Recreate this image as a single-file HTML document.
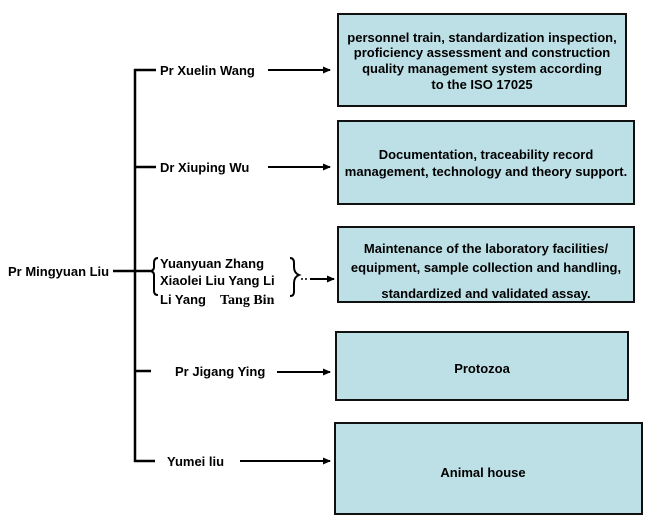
<!DOCTYPE html>
<html><head><style>
body{margin:0;background:#fff;}
svg{display:block;}
text{font-family:"Liberation Sans",Arial,sans-serif;font-weight:bold;font-size:13px;fill:#000;}
</style></head><body>
<svg width="649" height="521" viewBox="0 0 649 521" xmlns="http://www.w3.org/2000/svg">
<defs><marker id="a" markerWidth="8" markerHeight="8" refX="7" refY="4" orient="auto" markerUnits="userSpaceOnUse"><path d="M0,0.5 L8,4 L0,7.5 z" fill="#000"/></marker></defs>
<g fill="#bde0e6" stroke="#111" stroke-width="2">
<rect x="338" y="14" width="288" height="92"/>
<rect x="338" y="121" width="296" height="83"/>
<rect x="338" y="227" width="296" height="75"/>
<rect x="336" y="332" width="292" height="68"/>
<rect x="335" y="423" width="307" height="91"/>
</g>
<g stroke="#000" stroke-width="2.5" fill="none">
<line x1="135" y1="69" x2="135" y2="462"/>
<line x1="134" y1="70" x2="156" y2="70"/>
<line x1="134" y1="167" x2="156" y2="167"/>
<line x1="113" y1="271" x2="150" y2="271"/>
<line x1="134" y1="371" x2="151" y2="371"/>
<line x1="134" y1="461" x2="155" y2="461"/>
</g>
<g stroke="#000" stroke-width="2" fill="none">
<path d="M158,258 q-4,0 -4,5 v4 q0,4 -5,4 q5,0 5,4 v16 q0,4 4,4"/>
<path d="M290,258 q4,0 4,5 v4 q0,6 5,8 q-5,2 -5,8 v9 q0,4 -4,4"/>
</g>
<g stroke="#000" stroke-width="2" marker-end="url(#a)">
<line x1="268" y1="70" x2="330" y2="70"/>
<line x1="268" y1="167" x2="330" y2="167"/>
<line x1="310" y1="279" x2="334" y2="279"/>
<line x1="277" y1="372" x2="330" y2="372"/>
<line x1="240" y1="461" x2="330" y2="461"/>
</g>
<line x1="301" y1="279" x2="308" y2="279" stroke="#000" stroke-width="1.5" stroke-dasharray="2,2"/>
<text x="160" y="75">Pr Xuelin Wang</text>
<text x="160" y="172">Dr Xiuping Wu</text>
<text x="8" y="276">Pr Mingyuan Liu</text>
<text x="160" y="268">Yuanyuan Zhang</text>
<text x="160" y="285">Xiaolei Liu Yang Li</text>
<text x="160" y="304">Li Yang</text>
<text x="220" y="304" style="font-family:'Liberation Serif',serif;font-size:14px">Tang Bin</text>
<text x="175" y="376">Pr  Jigang Ying</text>
<text x="167" y="466">Yumei liu</text>
<g text-anchor="middle">
<text x="482" y="42">personnel train, standardization inspection,</text>
<text x="482" y="57">proficiency assessment and construction</text>
<text x="482" y="73">quality management system according</text>
<text x="482" y="89">to the ISO 17025</text>
<text x="486" y="159">Documentation, traceability record</text>
<text x="486" y="176">management, technology and theory support.</text>
<text x="486" y="253">Maintenance of the laboratory facilities/</text>
<text x="486" y="272">equipment, sample collection and handling,</text>
<text x="486" y="298">standardized and validated assay.</text>
<text x="482" y="373">Protozoa</text>
<text x="483" y="477">Animal house</text>
</g>
</svg>
</body></html>
